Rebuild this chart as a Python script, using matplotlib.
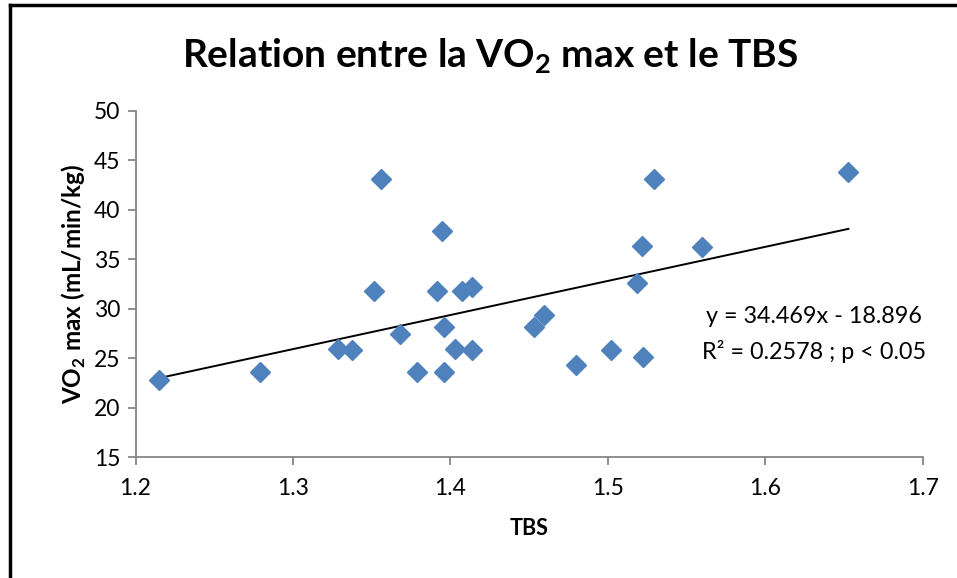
import numpy as np
import matplotlib
matplotlib.use("Agg")
import matplotlib.pyplot as plt
from matplotlib.lines import Line2D

plt.rcParams["font.family"] = ["Lato", "DejaVu Sans"]
plt.rcParams["mathtext.fontset"] = "custom"
plt.rcParams["mathtext.rm"] = "Lato"
plt.rcParams["mathtext.bf"] = "Lato:bold"

# TBS vs VO2 max values
tbs = [1.2149, 1.2790, 1.3287, 1.3376, 1.3788, 1.3957, 1.4027, 1.4140,
       1.3678, 1.3957, 1.3515, 1.3915, 1.4074, 1.4140, 1.3947, 1.3558,
       1.5296, 1.6529, 1.5218, 1.5597, 1.5187, 1.4598, 1.4529, 1.4799,
       1.5019, 1.5227]
vo2 = [22.79, 23.63, 25.92, 25.82, 23.63, 23.63, 25.90, 25.82,
       27.44, 28.12, 31.82, 31.82, 31.82, 32.17, 37.86, 43.12,
       43.12, 43.86, 36.37, 36.21, 32.63, 29.36, 28.12, 24.31,
       25.82, 25.15]

# trend line from the equation shown on the chart
slope, intercept = 34.469, -18.896
eq_text = "y = 34.469x - 18.896"
r2_text = "R² = 0.2578 ; p < 0.05"

x_ticks = [1.2, 1.3, 1.4, 1.5, 1.6, 1.7]
y_ticks = [15, 20, 25, 30, 35, 40, 45, 50]

blue = "#4F81BD"
grey = "#868686"

fig = plt.figure(figsize=(9.57, 5.78), dpi=100)
ax = fig.add_axes([0.1416, 0.2093, 0.8224, 0.5987])

ax.plot(tbs, vo2, linestyle="none", marker="D", markersize=10,
        color=blue, markeredgecolor=blue, zorder=3)

xl = np.array([min(tbs), max(tbs)])
ax.plot(xl, slope * xl + intercept, color="black", linewidth=1.4, zorder=2)

ax.set_xlim(1.2, 1.7)
ax.set_ylim(15, 50)
ax.set_xticks(x_ticks)
ax.set_yticks(y_ticks)
ax.set_xticklabels([f"{v:.1f}" for v in x_ticks])
ax.set_yticklabels([str(v) for v in y_ticks])

for s in ["top", "right"]:
    ax.spines[s].set_visible(False)
for s in ["left", "bottom"]:
    ax.spines[s].set_color(grey)
    ax.spines[s].set_linewidth(1.3)
ax.tick_params(axis="both", colors=grey, width=1.3, length=6,
               labelsize=16.5, labelcolor="black", direction="out")
ax.tick_params(axis="y", pad=5)
ax.tick_params(axis="x", pad=9)

ax.set_xlabel("TBS", fontsize=15.5, fontweight="bold", labelpad=14)
ax.set_ylabel(r"VO$_\mathbf{2}$ max (mL/min/kg)", fontsize=17.5,
              fontweight="bold", labelpad=4)

ax.text(0.862, 0.405, eq_text, transform=ax.transAxes, ha="center",
        va="center", fontsize=16.8)
ax.text(0.862, 0.306, r2_text, transform=ax.transAxes, ha="center",
        va="center", fontsize=16.8)

fig.text(0.512, 0.902, r"Relation entre la VO$_\mathbf{2}$ max et le TBS",
         ha="center", va="center", fontsize=28, fontweight="bold")

# outer frame (top and left edges only are visible)
fig.add_artist(Line2D([0.0105, 1.0], [0.9915, 0.9915], transform=fig.transFigure,
                      color="black", linewidth=2.5))
fig.add_artist(Line2D([0.0105, 0.0105], [0.0, 0.9915], transform=fig.transFigure,
                      color="black", linewidth=2.5))

fig.savefig("out.png", dpi=100)
